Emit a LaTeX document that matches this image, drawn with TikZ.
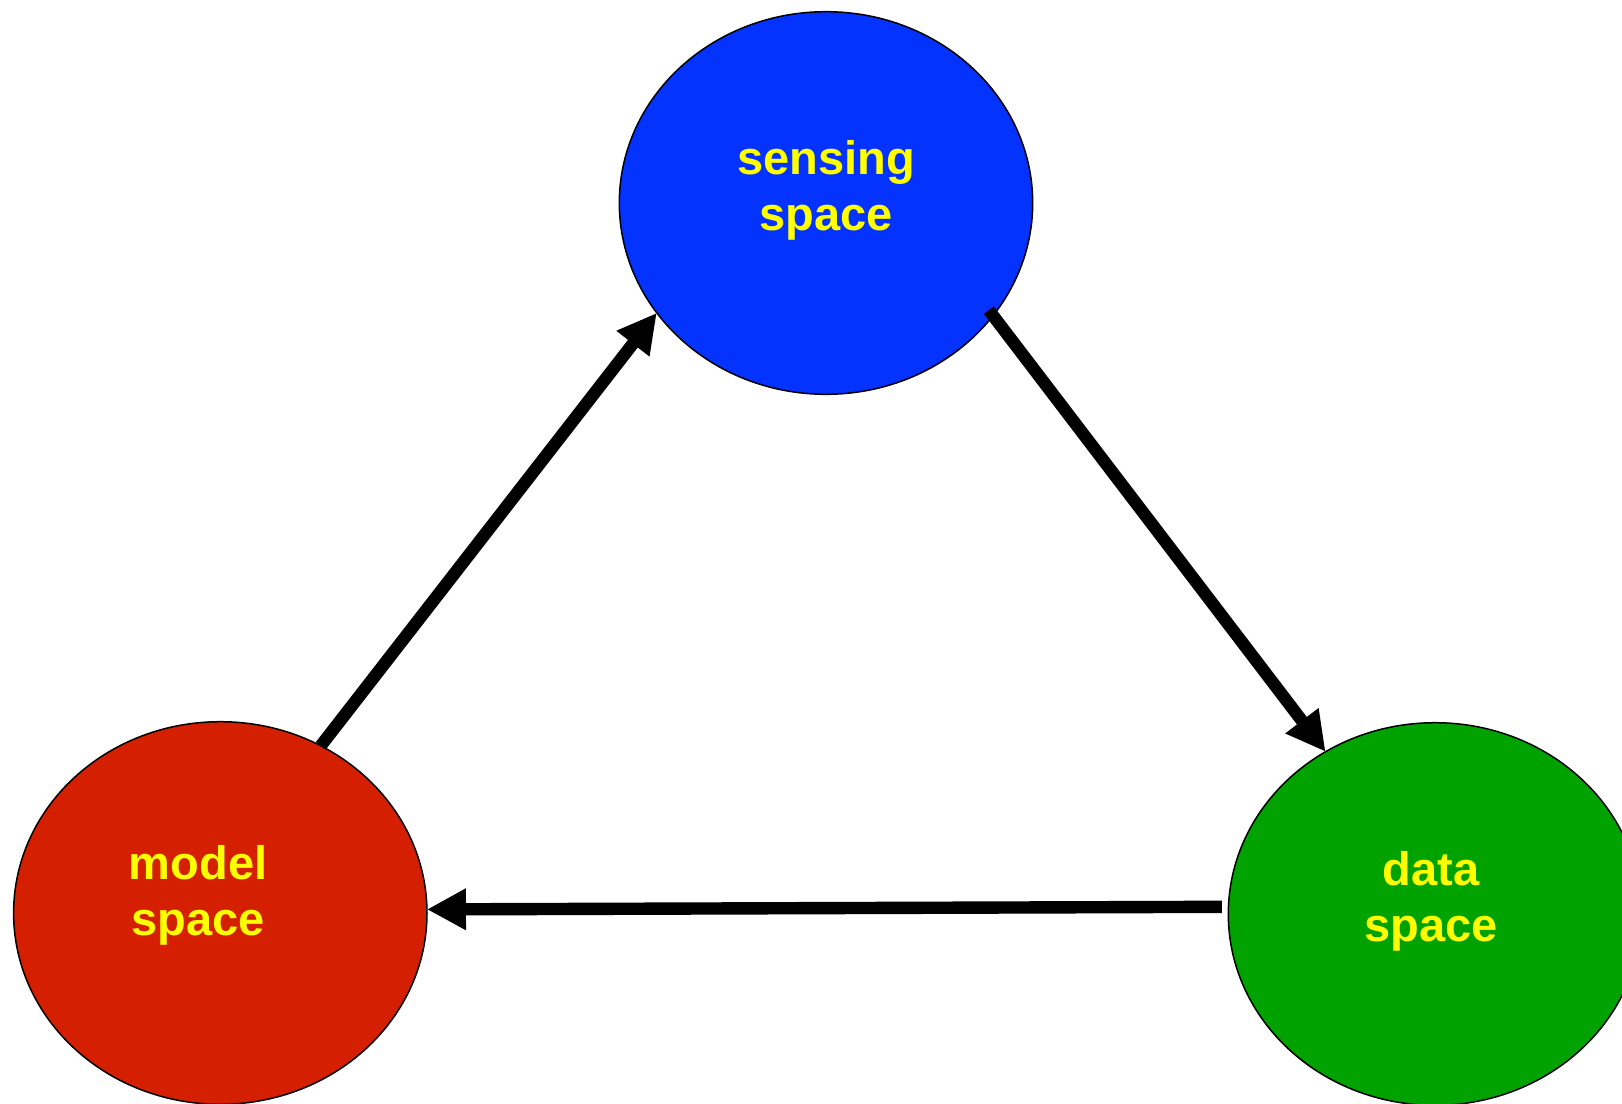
\documentclass[tikz,border=0pt]{standalone}
\usepackage{fontspec}
\setmainfont{Liberation Sans}
\usetikzlibrary{arrows.meta,calc,shapes.geometric}

\definecolor{sensingblue}{RGB}{4,51,255}
\definecolor{modelred}{RGB}{212,32,0}
\definecolor{datagreen}{RGB}{0,162,0}
\definecolor{labelyellow}{RGB}{255,255,0}

\tikzset{
  spacebubble/.style={ellipse, draw=black, line width=0.75pt,
    minimum width=206.7pt, minimum height=191.3pt, inner sep=0pt, outer sep=0pt},
  spacelabel/.style={text=labelyellow, align=center, inner sep=0pt,
    font=\fontsize{23.5pt}{28pt}\selectfont\bfseries},
  flow/.style={line width=6.2pt,
    -{Triangle[length=19.5pt,width=19.5pt]}},
}

\begin{document}
\begin{tikzpicture}
  \useasboundingbox (0,0) rectangle (811pt,-551.5pt);
  \clip (0,0) rectangle (811pt,-551.5pt);

  % the three spaces
  \node[spacebubble, fill=sensingblue] (sensing) at (413pt,-101.5pt) {};
  \node[spacebubble, fill=modelred]    (model)   at (110.15pt,-456.5pt) {};
  \node[spacebubble, fill=datagreen]   (data)    at (717.5pt,-457pt) {};

  % labels
  \node[spacelabel] (sensingtxt) at (413pt,-95.25pt)  {sensing\\space};
  \node[spacelabel] (modeltxt)   at (99pt,-447.75pt)  {model\\space};
  \node[spacelabel] (datatxt)    at (715.5pt,-450.5pt) {data\\space};

  % the cycle
  \draw[flow] (model.59.8) -- (sensing.213.6);
  \draw[flow, shorten <=-3.5pt] (sensing.-34.3) -- (data.124.8);
  \draw[flow, shorten <=3.3pt] (data.178.7) -- (model.1.2);
\end{tikzpicture}
\end{document}
